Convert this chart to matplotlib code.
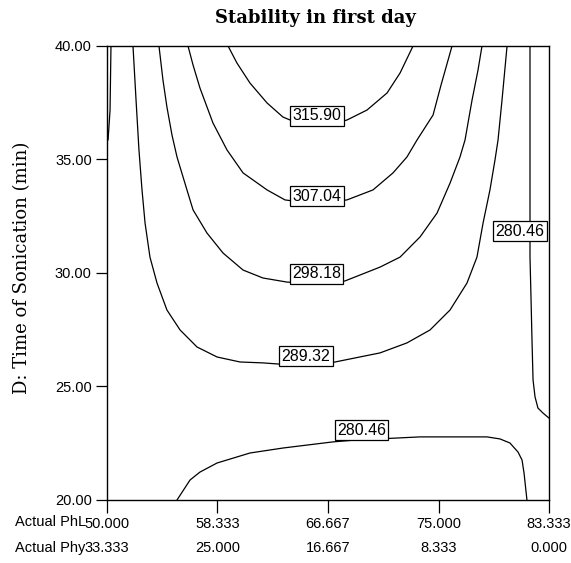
import matplotlib
matplotlib.use("Agg")
import matplotlib.pyplot as plt

# axes values
phl_ticks = [50.000, 58.333, 66.667, 75.000, 83.333]
phy_ticks = [33.333, 25.000, 16.667, 8.333, 0.000]
time_ticks = [20.00, 25.00, 30.00, 35.00, 40.00]

# contour lines (x = Actual PhL, y = time of sonication, min)
c315_x = [59.13, 59.80, 60.78, 62.07, 63.27, 64.55, 65.76, 66.97, 68.10, 69.61, 71.12, 72.10, 73.08]
c315_y = [40.00, 39.25, 38.37, 37.49, 36.87, 36.56, 36.48, 36.56, 36.74, 37.18, 37.93, 38.81, 40.00]

c307_x = [56.11, 56.49, 57.01, 57.99, 59.05, 60.26, 62.07, 63.42, 65.76, 68.10, 70.06, 71.57,
          72.62, 73.38, 74.59, 75.19, 75.64, 76.02]
c307_y = [40.00, 39.16, 38.15, 36.61, 35.42, 34.41, 33.66, 33.22, 33.04, 33.22, 33.66, 34.41,
          35.11, 35.86, 36.96, 38.28, 39.21, 40.00]

c298_x = [53.92, 54.22, 54.52, 54.90, 55.28, 56.03, 56.49, 57.54, 58.75, 60.26, 61.76, 63.57,
          65.76, 67.95, 70.59, 72.10, 73.61, 74.89, 75.87, 76.62, 77.00, 77.53, 77.98, 78.28]
c298_y = [40.00, 38.50, 37.31, 36.08, 35.11, 33.66, 32.78, 31.76, 30.88, 30.13, 29.78, 29.60,
          29.52, 29.65, 30.26, 30.70, 31.59, 32.64, 33.96, 35.11, 35.86, 37.62, 38.94, 40.00]

c289_x = [51.96, 52.19, 52.41, 52.64, 52.87, 53.24, 53.77, 54.52, 55.51, 56.79, 58.30, 60.03,
          61.76, 65.01, 67.20, 70.59, 72.62, 74.36, 75.87, 77.15, 77.90, 78.36, 78.88, 79.26,
          79.49, 79.79, 80.17]
c289_y = [40.00, 37.62, 35.42, 33.66, 32.20, 30.70, 29.56, 28.37, 27.49, 26.74, 26.30, 26.08,
          26.04, 25.90, 26.08, 26.48, 26.92, 27.49, 28.37, 29.56, 30.70, 32.20, 33.66, 34.98,
          35.86, 37.62, 40.00]

c280a_x = [55.28, 56.26, 57.01, 58.30, 60.78, 63.27, 67.04, 68.70, 73.61, 78.66, 79.64, 80.39,
           81.00, 81.30, 81.45, 81.67]
c280a_y = [20.00, 20.88, 21.23, 21.63, 22.07, 22.29, 22.56, 22.64, 22.78, 22.78, 22.69, 22.51,
           22.11, 21.76, 21.19, 20.00]

c280b_x = [81.90, 81.90, 81.98, 82.05, 82.13, 82.28, 82.50, 82.88, 83.33]
c280b_y = [40.00, 30.70, 28.81, 27.05, 25.29, 24.54, 24.05, 23.83, 23.61]

c280c_x = [50.30, 50.23, 50.08, 50.00]
c280c_y = [40.00, 37.18, 35.86, 35.82]

# contour labels
label_text = ["315.90", "307.04", "298.18", "289.32", "280.46", "280.46"]
label_x = [65.84, 65.84, 65.80, 65.01, 69.19, 81.15]
label_y = [36.92, 33.39, 29.96, 26.34, 23.08, 31.85]

fig = plt.figure(figsize=(5.71, 5.63), dpi=100)
ax = fig.add_axes([107/571, 63/563, 442/571, 454/563])

lines = [(c315_x, c315_y), (c307_x, c307_y), (c298_x, c298_y), (c289_x, c289_y),
         (c280a_x, c280a_y), (c280b_x, c280b_y), (c280c_x, c280c_y)]
for lx, ly in lines:
    ax.plot(lx, ly, color='black', lw=0.9, solid_joinstyle='round')

for t, x, y in zip(label_text, label_x, label_y):
    ax.text(x, y, t, ha='center', va='center', fontsize=11.5, family='Liberation Sans',
            bbox=dict(boxstyle='square,pad=0.14', fc='white', ec='black', lw=0.9), zorder=5)

ax.set_xlim(50, 83.333)
ax.set_ylim(20, 40)

ax.set_yticks(time_ticks)
ax.set_yticklabels([f"{v:.2f}" for v in time_ticks], family='Liberation Sans', fontsize=10.5)
ax.set_xticks(phl_ticks)
ax.set_xticklabels([f"{a:.3f}\n{b:.3f}" for a, b in zip(phl_ticks, phy_ticks)],
                   family='Liberation Sans', fontsize=10.5)
for t in ax.get_xticklabels():
    t.set_linespacing(1.95)
ax.tick_params(axis='y', direction='out', length=8, width=0.9, pad=3)
ax.tick_params(axis='x', direction='out', length=9, width=0.9, pad=3)
for s in ax.spines.values():
    s.set_linewidth(1.0)

fig.text(15/571, 1 - 522/563, "Actual PhL", ha='left', va='center', family='Liberation Sans', fontsize=10.5)
fig.text(15/571, 1 - 548/563, "Actual Phy", ha='left', va='center', family='Liberation Sans', fontsize=10.5)

fig.text(315/571, 1 - 18/563, "Stability in first day", ha='center', va='center',
         family='DejaVu Serif', fontweight='bold', fontsize=13)
fig.text(22/571, 1 - 268/563, "D: Time of Sonication (min)", ha='center', va='center',
         rotation=90, family='DejaVu Serif', fontsize=13)

fig.savefig("out.png", dpi=100)
